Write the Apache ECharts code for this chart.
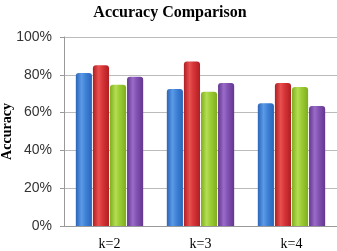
<!DOCTYPE html>
<html><head><meta charset="utf-8">
<script src="https://cdn.jsdelivr.net/npm/echarts@6/dist/echarts.min.js"></script>
<style>html,body{margin:0;padding:0;background:#fff}#c{width:337px;height:251px}</style>
</head><body><div id="c"></div>
<script>
const categories = ['k=2', 'k=3', 'k=4'];
const seriesA = [81, 72.5, 65];
const seriesB = [85, 87, 75.7];
const seriesC = [74.8, 71, 73.5];
const seriesD = [79, 75.7, 63.5];
const yTicks = [0, 20, 40, 60, 80, 100];

function grad(dark, mid, light) {
  return new echarts.graphic.LinearGradient(0, 0, 1, 0, [
    {offset: 0, color: dark}, {offset: 0.35, color: light}, {offset: 0.6, color: mid}, {offset: 1, color: dark}
  ]);
}
const colors = [
  grad('#2a64b8', '#3f82d6', '#5b9ae6'),
  grad('#b01e22', '#d63538', '#e8504f'),
  grad('#7fae1e', '#9bcb34', '#b4de52'),
  grad('#63368f', '#8252b3', '#9a6cc8')
];
const data = [seriesA, seriesB, seriesC, seriesD];
const chart = echarts.init(document.getElementById('c'));
chart.setOption({
  animation: false,
  title: {text: 'Accuracy Comparison', left: 165, top: 0, textAlign: 'center',
    textStyle: {fontFamily: 'Liberation Serif', fontWeight: 'bold', fontSize: 16, color: '#000'}},
  grid: {left: 64, right: 0, top: 37, bottom: 25, containLabel: false, outerBoundsMode: 'none'},
  xAxis: {type: 'category', data: categories,
    axisLine: {lineStyle: {color: '#999'}}, axisTick: {show: false},
    axisLabel: {fontFamily: 'Liberation Serif', fontSize: 14, color: '#000', margin: 11}},
  yAxis: {type: 'value', min: 0, max: 100, interval: 20,
    name: 'Accuracy', nameLocation: 'middle', nameGap: 50, nameRotate: 90, nameMoveOverlap: false,
    nameTextStyle: {fontFamily: 'Liberation Serif', fontWeight: 'bold', fontSize: 14, color: '#000'},
    axisLine: {show: true, lineStyle: {color: '#999'}},
    axisTick: {show: true, length: 4, lineStyle: {color: '#999'}},
    axisLabel: {fontFamily: 'Liberation Sans', fontSize: 14, color: '#333', margin: 12,
      formatter: v => yTicks.includes(v) ? v + '%' : ''},
    splitLine: {lineStyle: {color: '#bbb'}}},
  series: data.map((d, i) => ({
    type: 'bar', data: d, barGap: '6%', barCategoryGap: '26%',
    itemStyle: {color: colors[i], borderRadius: [3, 3, 0, 0]}
  }))
});
</script></body></html>
